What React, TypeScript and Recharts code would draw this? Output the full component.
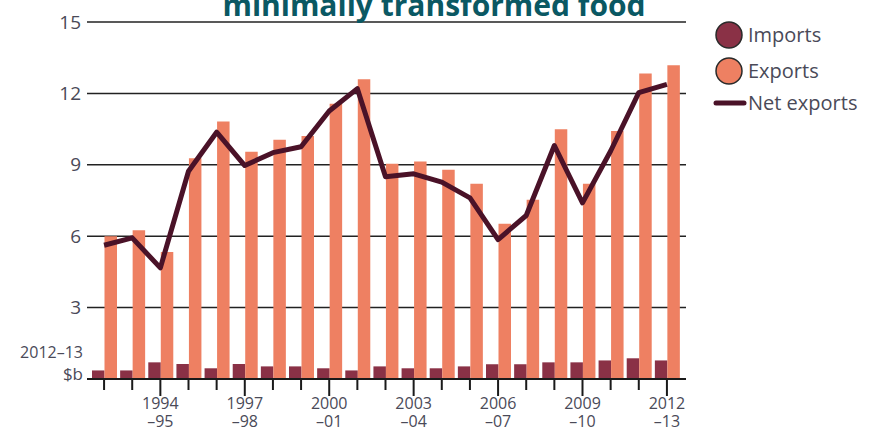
import { ComposedChart, Bar, Line, XAxis, YAxis, CartesianGrid, Legend } from 'recharts';

const years = [
  '1992–93', '1993–94', '1994–95', '1995–96', '1996–97', '1997–98', '1998–99',
  '1999–00', '2000–01', '2001–02', '2002–03', '2003–04', '2004–05', '2005–06',
  '2006–07', '2007–08', '2008–09', '2009–10', '2010–11', '2011–12', '2012–13',
];
const labelledYears = ['1994–95', '1997–98', '2000–01', '2003–04', '2006–07', '2009–10', '2012–13'];

const importsValues = [0.36, 0.36, 0.7, 0.63, 0.45, 0.63, 0.53, 0.53, 0.45, 0.36, 0.53, 0.45, 0.45, 0.53, 0.62, 0.62, 0.7, 0.7, 0.78, 0.87, 0.78];
const exportsValues = [6.0, 6.25, 5.34, 9.28, 10.82, 9.55, 10.05, 10.21, 11.57, 12.59, 9.04, 9.14, 8.79, 8.2, 6.52, 7.53, 10.49, 8.2, 10.42, 12.84, 13.18];
const netExportsValues = [5.62, 5.93, 4.67, 8.73, 10.37, 8.97, 9.51, 9.76, 11.26, 12.2, 8.5, 8.62, 8.27, 7.61, 5.86, 6.87, 9.81, 7.4, 9.58, 12.03, 12.38];

const yTicks = [0, 3, 6, 9, 12, 15];

const data = years.map((year, i) => ({
  year,
  imports: importsValues[i],
  exports: exportsValues[i],
  net: netExportsValues[i],
}));

const FONT = '"Open Sans", sans-serif';
const TEXT = '#4a4a58';
const IMPORTS = '#8a3146';
const EXPORTS = '#ee8062';
const NET = '#4a1228';

function YTick({ x, y, payload }: any) {
  if (payload.value === 0) {
    return (
      <g>
        <text x={x + 4} y={y - 21} textAnchor="end" fontSize={16} fill={TEXT} fontFamily={FONT}>2012–13</text>
        <text x={x + 4} y={y + 1} textAnchor="end" fontSize={17} fill={TEXT} fontFamily={FONT}>$b</text>
      </g>
    );
  }
  return (
    <text x={x + 2} y={y} dy="0.35em" textAnchor="end" fontSize={19} fill={TEXT} fontFamily={FONT}>
      {payload.value}
    </text>
  );
}

function XTick({ x, y, payload }: any) {
  const major = labelledYears.includes(payload.value);
  const [first, second] = payload.value.split('–');
  return (
    <g>
      <line x1={x} x2={x} y1={y} y2={y + (major ? 17 : 11)} stroke="#1a1a1a" strokeWidth={2} />
      {major && (
        <text x={x} y={y + 30} textAnchor="middle" fontSize={16} fill={TEXT} fontFamily={FONT}>{first}</text>
      )}
      {major && (
        <text x={x} y={y + 48} textAnchor="middle" fontSize={16} fill={TEXT} fontFamily={FONT}>–{second}</text>
      )}
    </g>
  );
}

function LegendBox() {
  return (
    <svg width={160} height={100}>
      <circle cx={19} cy={20} r={13} fill={IMPORTS} stroke="#2a2a2a" strokeWidth={1.5} />
      <text x={38} y={27} fontSize={20} fill={TEXT} fontFamily={FONT}>Imports</text>
      <circle cx={19} cy={56} r={13} fill={EXPORTS} stroke="#2a2a2a" strokeWidth={1.5} />
      <text x={38} y={63} fontSize={20} fill={TEXT} fontFamily={FONT}>Exports</text>
      <line x1={6} x2={34} y1={88} y2={88} stroke={NET} strokeWidth={5} strokeLinecap="round" />
      <text x={38} y={95} fontSize={20} fill={TEXT} fontFamily={FONT}>Net exports</text>
    </svg>
  );
}

export default function App() {
  return (
    <div style={{ position: 'absolute', left: 0, top: 0, width: 870, height: 433, background: '#fff' }}>
      <ComposedChart
        width={870}
        height={433}
        data={data}
        margin={{ top: 22, right: 184, left: 0, bottom: 0 }}
        barGap={0}
        barSize={12.5}
      >
        <CartesianGrid vertical={false} stroke="#222" strokeWidth={1.5} />
        <XAxis
          dataKey="year"
          interval={0}
          height={54}
          tickSize={0}
          tickMargin={0}
          padding={{ left: 3, right: 5 }}
          axisLine={{ stroke: '#1a1a1a', strokeWidth: 2 }}
          tickLine={false}
          tick={<XTick />}
        />
        <YAxis
          width={87}
          domain={[0, 15]}
          ticks={yTicks}
          axisLine={false}
          tickLine={false}
          tick={<YTick />}
        />
        <Legend
          layout="vertical"
          align="center"
          verticalAlign="middle"
          wrapperStyle={{ left: 710, top: 15, width: 160 }}
          content={() => <LegendBox />}
        />
        <Bar dataKey="imports" name="Imports" fill={IMPORTS} isAnimationActive={false} />
        <Bar dataKey="exports" name="Exports" fill={EXPORTS} isAnimationActive={false} />
        <Line
          dataKey="net"
          name="Net exports"
          stroke={NET}
          strokeWidth={5}
          dot={false}
          activeDot={false}
          strokeLinejoin="round"
          isAnimationActive={false}
        />
      </ComposedChart>
      <svg width={870} height={40} style={{ position: 'absolute', left: 0, top: 0, pointerEvents: 'none' }}>
        <text x={434} y={16} textAnchor="middle" fontSize={30} fontWeight={700} fill="#0a5863" fontFamily={FONT}>
          minimally transformed food
        </text>
      </svg>
    </div>
  );
}
